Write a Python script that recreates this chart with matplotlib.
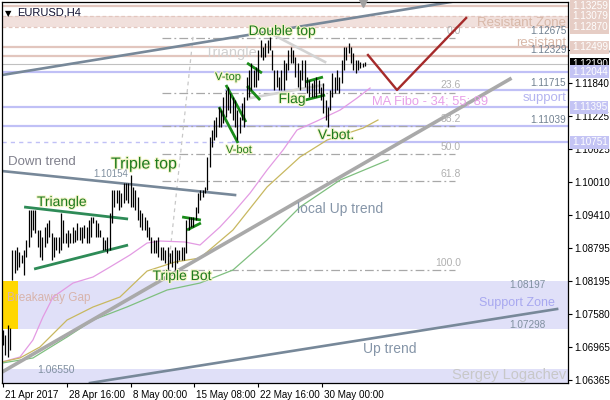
import matplotlib
matplotlib.use('Agg')
import matplotlib.pyplot as plt
import matplotlib.patheffects as pe
import matplotlib.transforms as mtrans
import numpy as np

plt.rcParams['font.family'] = ['Liberation Sans', 'DejaVu Sans']

# ---------------- data ----------------
highs = [1.0729, 1.0719, 1.0738, 1.0732, 1.0876, 1.0876, 1.0882, 1.0872, 1.0867, 1.0876,
         1.0895, 1.0950, 1.0950, 1.0950, 1.0950, 1.0913, 1.0913, 1.0900, 1.0919, 1.0926,
         1.0931, 1.0908, 1.0900, 1.0900, 1.0900, 1.0944, 1.0931, 1.0908, 1.0913, 1.0908,
         1.0919, 1.0913, 1.0926, 1.0919, 1.0919, 1.0922, 1.0919, 1.0931, 1.0937, 1.0937,
         1.0931, 1.0926, 1.0913, 1.0900, 1.0895, 1.0900, 1.0944, 1.0987, 1.0987, 1.0987,
         1.0987, 1.0981, 1.1000, 1.1000, 1.1000, 1.1015, 1.0992, 1.0987, 1.0974, 1.0950,
         1.0944, 1.0937, 1.0931, 1.0919, 1.0900, 1.0895, 1.0895, 1.0900, 1.0882, 1.0882,
         1.0876, 1.0882, 1.0871, 1.0876, 1.0882, 1.0876, 1.0876, 1.0882, 1.0882, 1.0931,
         1.0937, 1.0937, 1.0937, 1.0955, 1.0981, 1.0987, 1.0987, 1.0992, 1.1048, 1.1084,
         1.1097, 1.1116, 1.1121, 1.1140, 1.1134, 1.1158, 1.1171, 1.1177, 1.1166, 1.1158,
         1.1153, 1.1134, 1.1121, 1.1147, 1.1158, 1.1195, 1.1208, 1.1221, 1.1208, 1.1214,
         1.1245, 1.1263, 1.1250, 1.1258, 1.1263, 1.1269, 1.1245, 1.1208, 1.1208, 1.1195,
         1.1208, 1.1226, 1.1221, 1.1245, 1.1250, 1.1245, 1.1232, 1.1221, 1.1208, 1.1226,
         1.1226, 1.1195, 1.1190, 1.1184, 1.1190, 1.1195, 1.1190, 1.1177, 1.1184, 1.1153,
         1.1140, 1.1171, 1.1202, 1.1195, 1.1208, 1.1195, 1.1226, 1.1250, 1.1250, 1.1258,
         1.1250, 1.1239, 1.1226, 1.1226, 1.1223, 1.1221, 1.1223]
lows = [1.0701, 1.0683, 1.0679, 1.0692, 1.0821, 1.0834, 1.0839, 1.0845, 1.0852, 1.0830,
        1.0863, 1.0882, 1.0900, 1.0913, 1.0908, 1.0882, 1.0863, 1.0858, 1.0882, 1.0889,
        1.0900, 1.0858, 1.0863, 1.0876, 1.0871, 1.0876, 1.0889, 1.0889, 1.0882, 1.0889,
        1.0889, 1.0891, 1.0895, 1.0895, 1.0889, 1.0898, 1.0889, 1.0889, 1.0900, 1.0926,
        1.0900, 1.0900, 1.0900, 1.0876, 1.0876, 1.0871, 1.0876, 1.0926, 1.0955, 1.0963,
        1.0950, 1.0955, 1.0963, 1.0968, 1.0963, 1.0955, 1.0955, 1.0950, 1.0931, 1.0919,
        1.0913, 1.0913, 1.0900, 1.0895, 1.0871, 1.0871, 1.0871, 1.0863, 1.0858, 1.0858,
        1.0852, 1.0839, 1.0852, 1.0845, 1.0839, 1.0852, 1.0858, 1.0858, 1.0858, 1.0871,
        1.0913, 1.0919, 1.0919, 1.0931, 1.0944, 1.0968, 1.0974, 1.0981, 1.0987, 1.1029,
        1.1066, 1.1079, 1.1084, 1.1103, 1.1103, 1.1110, 1.1121, 1.1134, 1.1129, 1.1116,
        1.1103, 1.1079, 1.1092, 1.1116, 1.1103, 1.1153, 1.1158, 1.1171, 1.1177, 1.1177,
        1.1190, 1.1232, 1.1226, 1.1232, 1.1239, 1.1245, 1.1208, 1.1171, 1.1177, 1.1171,
        1.1171, 1.1171, 1.1190, 1.1208, 1.1221, 1.1221, 1.1195, 1.1177, 1.1171, 1.1190,
        1.1177, 1.1166, 1.1158, 1.1158, 1.1158, 1.1158, 1.1166, 1.1153, 1.1129, 1.1116,
        1.1103, 1.1134, 1.1158, 1.1166, 1.1171, 1.1166, 1.1184, 1.1208, 1.1226, 1.1239,
        1.1221, 1.1208, 1.1202, 1.1208, 1.1212, 1.1214, 1.1215]

time_labels = ['21 Apr 2017', '28 Apr 16:00', '8 May 00:00', '15 May 08:00',
               '22 May 16:00', '30 May 00:00']
time_label_bars = [0, 27.6, 55.2, 82.3, 109.9, 137.5]

price_ticks = [1.06365, 1.06965, 1.07580, 1.08195, 1.08795, 1.09410, 1.10010,
               1.10625, 1.11225, 1.11840, 1.12455]

# moving averages (MA Fibo 34 / 55 / 89)
ma34_x = [-0.4, 7.3, 12.9, 17.2, 21.6, 30.2, 38.8, 46.1, 54.7, 62.1, 67.7, 78.4,
          84.9, 93.5, 99.1, 106.5, 113.8, 120.7, 126.7, 135.3, 145.3, 152.6, 158.2]
ma34_y = [1.06697, 1.06789, 1.07102, 1.07526, 1.07895, 1.08153, 1.08264, 1.08448,
          1.08669, 1.08890, 1.08927, 1.08909, 1.08853, 1.09185, 1.09443, 1.09812,
          1.10236, 1.10605, 1.10973, 1.11139, 1.11342, 1.11563, 1.11747]
ma55_x = [-0.4, 7.3, 15.9, 27.6, 38.8, 50.4, 62.1, 74.1, 84.9, 99.1, 113.8, 128.0,
          139.7, 155.2, 161.6]
ma55_y = [1.06697, 1.06771, 1.06973, 1.07471, 1.07711, 1.07895, 1.08374, 1.08540,
          1.08614, 1.09130, 1.09923, 1.10476, 1.10789, 1.11010, 1.11158]
ma89_x = [-0.4, 12.9, 27.6, 38.8, 53.4, 70.7, 84.9, 99.1, 113.8, 128.0, 145.3, 166.0]
ma89_y = [1.06678, 1.06771, 1.07158, 1.07471, 1.07711, 1.08024, 1.08153, 1.08393,
          1.08946, 1.09554, 1.10052, 1.10420]

# levels
resist_lines = [1.13259, 1.12499, 1.12329]
resist_zone = (1.12870, 1.13079)
support_lines = [1.12044, 1.11395, 1.11039]
support_partial = 1.11715
dashed_support = 1.10751
support_zone = (1.07298, 1.08197)
bottom_zone_top = 1.06570
current_price = 1.12190
fib_high, fib_low = 1.12675, 1.08390
fib_levels = [0.0, 23.6, 38.2, 50.0, 61.8, 100.0]

pink_boxes = [1.13259, 1.13079, 1.12870, 1.12499]
blue_boxes = [1.12044, 1.11395, 1.10751]

# ---------------- figure ----------------
fig = plt.figure(figsize=(6.1, 4.0), dpi=100)
ax = fig.add_axes([2 / 610, 17 / 400, 566 / 610, 381 / 400])
YMIN, YMAX = 1.06310, 1.13333
XMIN, XMAX = -0.43, 243.5
ax.set_xlim(XMIN, XMAX)
ax.set_ylim(YMIN, YMAX)

PINK = '#E2C6BE'
PINKFILL = '#F1E0DC'
BLUE = '#C0C0F6'
LAV = '#E0E0F8'
STEEL = '#778899'

# zones
ax.axhspan(*resist_zone, color=PINKFILL, zorder=0, lw=0)
for v in resist_zone:
    ax.axhline(v, color=PINK, lw=0.9, ls=(0, (3, 2)), zorder=1)
ax.axhspan(*support_zone, color=LAV, zorder=0, lw=0)
ax.axhspan(YMIN, bottom_zone_top, color=LAV, zorder=0, lw=0)
ax.fill_between([XMIN, 6.5], support_zone[0], support_zone[1], color='#FFD700', lw=0, zorder=0.5)

# horizontal lines
for v in resist_lines:
    ax.axhline(v, color=PINK, lw=1.6, zorder=1)
for v in support_lines:
    ax.axhline(v, color=BLUE, lw=1.6, zorder=1)
ax.plot([96, XMAX], [support_partial] * 2, color=BLUE, lw=1.6, zorder=1)
ax.plot([XMIN, 99.1], [dashed_support] * 2, color=BLUE, lw=1.0, ls=(0, (3, 3)), zorder=1)
ax.plot([99.1, XMAX], [dashed_support] * 2, color=BLUE, lw=1.6, zorder=1)
ax.axhline(current_price, color='#C0C0C0', lw=0.8, zorder=1)

# fibonacci
for lv in fib_levels:
    p = fib_high - lv / 100 * (fib_high - fib_low)
    ax.plot([68.5, 194.8], [p, p], color='#A8A8A8', lw=0.9, ls=(0, (7, 2.5, 1.5, 2.5)), zorder=1.2)
    ax.annotate(f'{lv:.1f}', xy=(197.4, p), xytext=(0, 1.5), textcoords='offset points',
                ha='right', va='bottom', fontsize=7.5, color='#B0B0B0', zorder=3)
ax.plot([71.1, 81.9], [1.0836, 1.1269], color='#C8C8C8', lw=0.9, ls=(0, (3, 3)), zorder=1.2)

# moving averages
ax.plot(ma34_x, ma34_y, color='#E39BE3', lw=0.9, zorder=2)
ax.plot(ma55_x, ma55_y, color='#C8B860', lw=0.9, zorder=2)
ax.plot(ma89_x, ma89_y, color='#7FBF7F', lw=0.9, zorder=2)

# trend lines
ax.plot([-0.4, 198.3], [1.11987, 1.13370], color=STEEL, lw=1.9, zorder=2.5)   # upper channel
ax.plot([-0.4, 100.0], [1.10217, 1.09775], color=STEEL, lw=1.9, zorder=2.5)   # down trend
ax.plot([37.5, 238.8], [1.06310, 1.07674], color=STEEL, lw=1.9, zorder=2.5)   # up trend
ax.plot([-0.4, 218.5], [1.06512, 1.11913], color='#A9A9A9', lw=2.6, zorder=2.4)  # local up trend

# light grey pattern lines
ax.plot([106.5, 137.9], [1.11563, 1.11803], color='#D3D3D3', lw=1.9, zorder=2.5)
ax.plot([115.1, 138.8], [1.12761, 1.12227], color='#D3D3D3', lw=1.9, zorder=2.5)

# green pattern lines
G = '#2E8B57'
G2 = '#1A8C1A'
green_segments = [
    ([9.1, 53.9], [1.09554, 1.09333], G),
    ([13.4, 53.9], [1.08411, 1.08853], G),
    ([77.2, 85.3], [1.09370, 1.09314], G2),
    ([79.3, 85.3], [1.09130, 1.09259], G2),
    ([96.1, 104.7], [1.11803, 1.11121], G2),
    ([93.1, 101.3], [1.11397, 1.10734], G2),
    ([105.2, 111.6], [1.12208, 1.12024], G2),
    ([105.2, 110.8], [1.11784, 1.11526], G2),
    ([130.2, 137.9], [1.11858, 1.11950], G2),
    ([130.2, 138.8], [1.11526, 1.11618], G2),
]
for xs, ys, c in green_segments:
    ax.plot(xs, ys, color=c, lw=2.0, zorder=3, solid_capstyle='butt')

# red forecast V
ax.plot([157.3, 169.8, 199.6], [1.12356, 1.11711, 1.13038], color='#A52A2A', lw=1.7, zorder=3)

# price bars
idx = np.arange(len(highs))
ax.vlines(idx, lows, highs, color='black', lw=0.9, zorder=4)

# shift marker
ax.plot([155.2], [YMAX - 0.0002], marker='v', color='#A0A0A0', ms=6, clip_on=False, zorder=6)

# ---------------- texts ----------------
glow = [pe.withStroke(linewidth=1.6, foreground='#F4F4C8')]
GT = '#1E7A1E'
def label(txt, x, y, fs, color, ha='center', effects=None, z=5):
    ax.text(x, y, txt, fontsize=fs, color=color, ha=ha, va='center', zorder=z,
            path_effects=effects)

label('Down trend', 2.2, 1.10383, 9.5, '#80808C', ha='left')
label('Triangle', 25.4, 1.09646, 10, GT, effects=glow)
label('1.10154', 46.6, 1.10162, 7, '#8090A0')
label('Triple top', 60.8, 1.10347, 11.5, GT, effects=glow)
label('Triple Bot', 77.2, 1.08282, 10, GT, effects=glow)
label('V-top', 97.0, 1.11950, 8, GT, effects=glow)
label('V-bot', 101.7, 1.10605, 8, GT, effects=glow)
label('Double top', 120.3, 1.12798, 10, GT, effects=glow)
label('Triangle', 98.3, 1.12393, 10.5, '#D0D0D0', z=2.6)
label('Flag', 124.6, 1.11545, 10, GT, effects=glow)
label('V-bot.', 143.5, 1.10881, 10, GT, effects=glow)
label('MA Fibo - 34; 55; 89', 159.1, 1.11508, 9.3, '#E8A0E8', ha='left')
label('local Up trend', 126.7, 1.09517, 10, '#8595A8', ha='left')
label('Up trend', 155.2, 1.06936, 10, '#8595A8', ha='left')
label('Breakaway Gap', 1.7, 1.07877, 8.5, '#D8B4AC', ha='left')
label('1.06550', 22.8, 1.06549, 7.5, '#8090A0')

right_x = 242.8
label('Resistant Zone', right_x, 1.12946, 9.5, '#D8B8A8', ha='right')
label('resistant', right_x, 1.12577, 9.5, '#D8B8A8', ha='right')
label('support', right_x, 1.11563, 9.5, '#B4B4F0', ha='right')
label('Support Zone', 237.8, 1.07784, 9, '#A8A8F0', ha='right')
label('Sergey Logachev', right_x, 1.06457, 10.5, '#C8C8C8', ha='right')

for v in [1.12675, 1.12329, 1.11715, 1.11039]:
    ax.annotate(f'{v:.5f}', xy=(right_x, v), xytext=(0, 1.2), textcoords='offset points',
                ha='right', va='bottom', fontsize=7.2, color='#708090', zorder=5)
label('1.08197', 234.0, 1.08116, 7.2, '#8090A0', ha='right')
label('1.07298', 234.0, 1.07379, 7.2, '#8090A0', ha='right')

# title
ax.text(0.006, 0.982, '▼', transform=ax.transAxes, fontsize=6, va='top', ha='left',
        family=['DejaVu Sans'], color='black', zorder=7)
ax.text(0.027, 0.985, 'EURUSD,H4', transform=ax.transAxes, fontsize=8, va='top', ha='left',
        color='#101030', zorder=7)

# ---------------- axes ----------------
for s in ax.spines.values():
    s.set_color('black')
    s.set_linewidth(0.9)
ax.yaxis.tick_right()
ax.set_yticks(price_ticks)
ax.set_yticklabels([f'{v:.5f}' for v in price_ticks])
ax.tick_params(axis='y', direction='out', length=3, width=0.8, pad=1.2, labelsize=7.1,
               colors='black')
ax.set_xticks(time_label_bars)
ax.set_xticklabels(time_labels)
ax.tick_params(axis='x', direction='out', length=3, width=0.8, pad=2, labelsize=7.1)
offset = mtrans.ScaledTranslation(2 / 100, 0, fig.dpi_scale_trans)
for lbl in ax.get_xticklabels():
    lbl.set_horizontalalignment('left')
    lbl.set_transform(lbl.get_transform() + offset)

trans = ax.get_yaxis_transform()
def price_box(v, fc, tc='white'):
    ax.text(1.0068, v, f'{v:.5f}', transform=trans, ha='left', va='center', fontsize=7.1,
            color=tc, clip_on=False, zorder=10,
            bbox=dict(boxstyle='square,pad=0.15', fc=fc, ec='none'))

price_box(current_price, 'black')
for v in pink_boxes:
    price_box(v, '#E6CDC5')
for v in blue_boxes:
    price_box(v, '#C4C4F4')

fig.savefig('out.png', dpi=100)
